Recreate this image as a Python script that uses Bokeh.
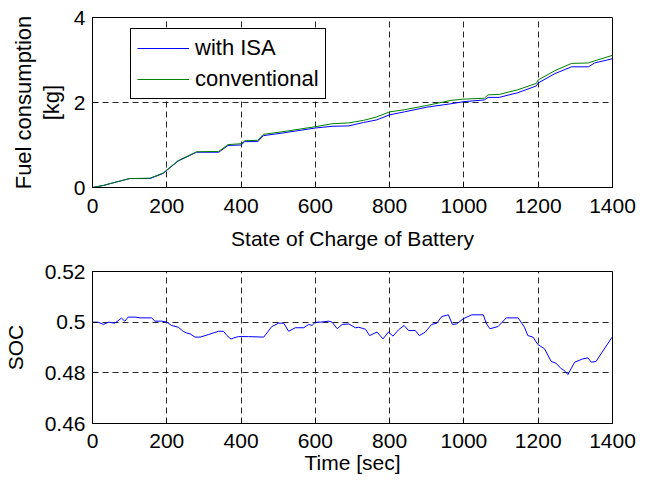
from bokeh.plotting import figure
from bokeh.layouts import column
from bokeh.models import (FixedTicker, LinearAxis, Legend, LegendItem, Range1d,
                          CustomJSTickFormatter)
from bokeh.embed import file_html
from bokeh.resources import INLINE

# ---------------- data ----------------
fuel_time = [0, 30, 60, 100, 155, 190, 230, 280, 340, 365,
             400, 410, 445, 460, 510, 600, 645, 690, 730, 765,
             800, 840, 900, 965, 1000, 1055, 1065, 1095, 1145, 1195,
             1200, 1245, 1290, 1335, 1352, 1400]
fuel_isa = [0, 0.05, 0.12, 0.21, 0.21, 0.33, 0.62, 0.83, 0.83, 0.99,
            1.00, 1.08, 1.08, 1.22, 1.28, 1.40, 1.44, 1.45, 1.53, 1.59,
            1.71, 1.78, 1.89, 1.97, 2.02, 2.06, 2.12, 2.12, 2.23, 2.39,
            2.46, 2.68, 2.84, 2.84, 2.93, 3.03]
fuel_conv = [0, 0.05, 0.12, 0.21, 0.22, 0.34, 0.63, 0.84, 0.85, 1.01,
             1.03, 1.10, 1.11, 1.25, 1.31, 1.43, 1.50, 1.52, 1.58, 1.66,
             1.78, 1.83, 1.93, 2.05, 2.08, 2.10, 2.18, 2.19, 2.30, 2.45,
             2.53, 2.75, 2.92, 2.93, 2.98, 3.11]

soc_time = [0, 15, 29, 43, 60, 78, 87, 96, 114, 128,
            159, 168, 186, 200, 213, 231, 245, 254, 263, 276,
            290, 312, 339, 353, 362, 373, 380, 393, 420, 461,
            483, 501, 515, 528, 546, 569, 582, 591, 600, 614,
            636, 645, 659, 672, 690, 708, 717, 735, 746, 766,
            782, 797, 809, 824, 839, 851, 869, 880, 896, 913,
            927, 940, 958, 969, 980, 998, 1021, 1052, 1061, 1070,
            1092, 1114, 1146, 1163, 1172, 1186, 1199, 1217, 1235, 1248,
            1262, 1268, 1280, 1298, 1320, 1334, 1343, 1356, 1369, 1400]
soc_value = [0.5000, 0.5000, 0.4991, 0.5000, 0.4996, 0.5016, 0.5004, 0.5020, 0.5020, 0.5017,
             0.5017, 0.5004, 0.5004, 0.5000, 0.4987, 0.4980, 0.4963, 0.4957, 0.4954, 0.4941,
             0.4941, 0.4951, 0.4964, 0.4964, 0.4947, 0.4933, 0.4938, 0.4943, 0.4943, 0.4941,
             0.4983, 0.4996, 0.4996, 0.4964, 0.4978, 0.4978, 0.4991, 0.4987, 0.5000, 0.5000,
             0.5004, 0.5000, 0.4974, 0.4991, 0.4993, 0.4978, 0.4980, 0.4972, 0.4947, 0.4961,
             0.4934, 0.4961, 0.4945, 0.4970, 0.4987, 0.4967, 0.4967, 0.4947, 0.4961, 0.4991,
             0.4996, 0.5022, 0.5029, 0.4991, 0.4993, 0.5013, 0.5029, 0.5029, 0.4993, 0.4974,
             0.4983, 0.5017, 0.5017, 0.4980, 0.4947, 0.4941, 0.4912, 0.4895, 0.4845, 0.4838,
             0.4816, 0.4812, 0.4793, 0.4842, 0.4855, 0.4859, 0.4842, 0.4845, 0.4875, 0.4943]

x_ticks = [0, 200, 400, 600, 800, 1000, 1200, 1400]
fuel_ticks = [0, 2, 4]
soc_ticks = [0.46, 0.48, 0.50, 0.52]
series_labels = ["with ISA", "conventional"]

FONT = "Liberation Sans"
FS = "21px"


def style(p, xt, yt):
    p.outline_line_color = "black"
    p.outline_line_alpha = 1
    p.xaxis.ticker = FixedTicker(ticks=xt)
    p.yaxis.ticker = FixedTicker(ticks=yt)
    for ax in p.xaxis + p.yaxis:
        ax.major_tick_in = 5
        ax.major_tick_out = 0
        ax.minor_tick_in = 0
        ax.minor_tick_out = 0
        ax.axis_line_color = "black"
        ax.major_tick_line_color = "black"
        ax.major_label_text_font = FONT
        ax.major_label_text_font_size = FS
        ax.major_label_text_color = "black"
        ax.axis_label_text_font = FONT
        ax.axis_label_text_font_size = FS
        ax.axis_label_text_font_style = "normal"
        ax.axis_label_text_color = "black"
    p.xaxis.major_label_standoff = 11
    p.yaxis.major_label_standoff = 7
    for g in (p.xgrid, p.ygrid):
        g.grid_line_color = "black"
        g.grid_line_dash = "6 4"
        g.grid_line_width = 1
        g.grid_line_alpha = 0.85


# ---------------- top figure ----------------
p1 = figure(frame_width=520, frame_height=170, output_backend="svg",
            toolbar_location=None, x_range=Range1d(0, 1400), y_range=Range1d(0, 4),
            min_border_left=91, min_border_right=33, min_border_top=17,
            min_border_bottom=70)
style(p1, x_ticks, fuel_ticks)
p1.xaxis.axis_label = "State of Charge of Battery"
p1.xaxis.axis_label_standoff = 11
p1.yaxis.axis_label = "[kg]"
p1.yaxis.axis_label_standoff = 7
p1.yaxis.axis_label_text_font_size = "22px"

extra = LinearAxis(axis_label="Fuel consumption", ticker=FixedTicker(ticks=[]),
                   major_label_text_font_size="0px", major_label_standoff=0,
                   major_tick_in=0, major_tick_out=0, minor_tick_in=0,
                   minor_tick_out=0, axis_line_color=None,
                   axis_label_text_font=FONT, axis_label_text_font_size="22px",
                   axis_label_text_font_style="normal", axis_label_standoff=0,
                   axis_label_text_color="black")
p1.add_layout(extra, "left")

r1 = p1.line(fuel_time, fuel_isa, line_color="#0000ff", line_width=1)
r2 = p1.line(fuel_time, fuel_conv, line_color="#008000", line_width=1)

legend = Legend(items=[LegendItem(label=series_labels[0], renderers=[r1]),
                       LegendItem(label=series_labels[1], renderers=[r2])],
                location=(38, 88), orientation="vertical")
legend.border_line_color = "black"
legend.border_line_width = 1
legend.border_line_alpha = 1
legend.background_fill_color = "white"
legend.background_fill_alpha = 1
legend.label_text_font = FONT
legend.label_text_font_size = "22px"
legend.label_text_color = "black"
legend.glyph_width = 52
legend.glyph_height = 20
legend.label_height = 20
legend.label_standoff = 6
legend.padding = 6
legend.spacing = 5
legend.margin = 0
p1.add_layout(legend, "center")

# ---------------- bottom figure ----------------
p2 = figure(frame_width=520, frame_height=152, output_backend="svg",
            toolbar_location=None, x_range=Range1d(0, 1400),
            y_range=Range1d(0.46, 0.52),
            min_border_left=91, min_border_right=33, min_border_top=14,
            min_border_bottom=10)
style(p2, x_ticks, soc_ticks)
p2.yaxis.formatter = CustomJSTickFormatter(
    code="var s = tick.toFixed(2); if (s.endsWith('0')) { s = s.slice(0, -1); } return s;")
p2.xaxis.axis_label = "Time [sec]"
p2.xaxis.axis_label_standoff = 0
p2.xaxis.major_label_standoff = 10
p2.yaxis.axis_label = "SOC"
p2.yaxis.axis_label_standoff = 15

p2.line(soc_time, soc_value, line_color="#0000ff", line_width=1)

layout = column(p1, p2, spacing=0)

open("out.html", "w").write(file_html(layout, INLINE))
